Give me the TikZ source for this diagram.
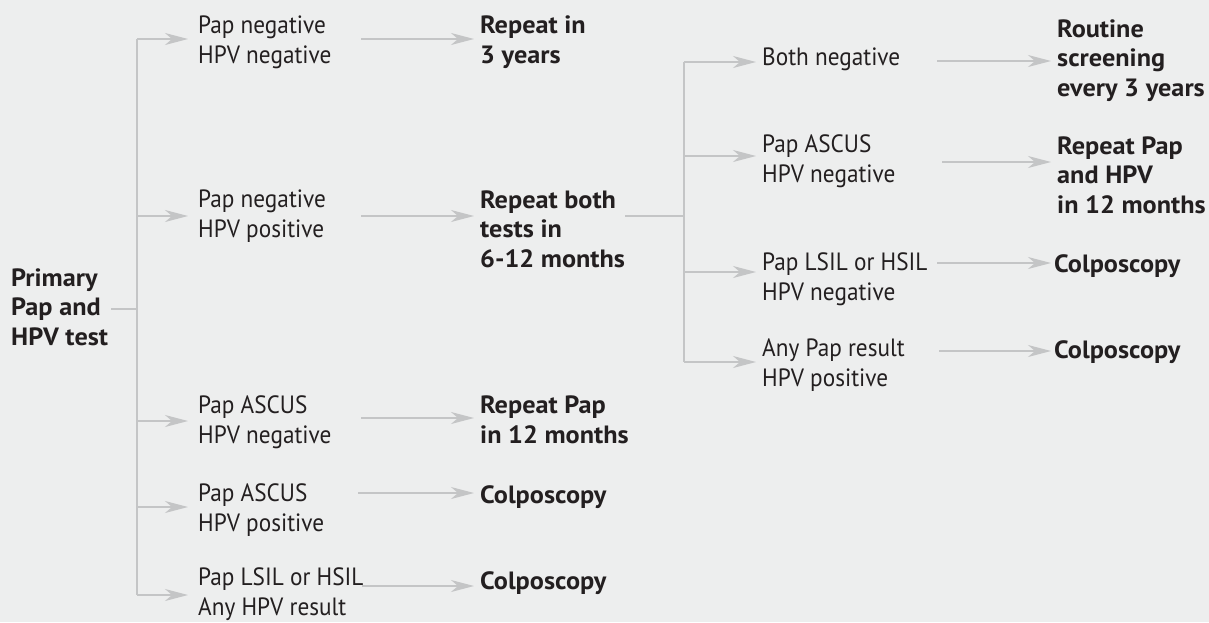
\documentclass[tikz,border=0pt]{standalone}
\usepackage{fontspec}
\setmainfont{PT Sans}[FakeStretch=0.93, BoldFont={PT Sans Bold}, BoldFeatures={FakeStretch=1.05}]
\usetikzlibrary{arrows.meta}
\definecolor{bg}{HTML}{EDEEEE}
\definecolor{ln}{HTML}{C4C5C6}
\definecolor{tx}{HTML}{231F20}
\tikzset{
  txt/.style={inner sep=0pt, anchor=base west, align=left, text=tx,
    font=\fontsize{25}{29.5}\selectfont},
  res/.style={txt, font=\fontsize{25}{29.5}\selectfont\bfseries},
  link/.style={draw=ln, line width=1.4pt},
  arr/.style={link, -{Stealth[length=23pt, width=12pt, inset=7pt, fill=ln]}},
}
\begin{document}
\begin{tikzpicture}[x=1pt, y=-1pt]
\useasboundingbox (0,0) rectangle (1209,622);
\clip (0,0) rectangle (1209,622);
\fill[bg] (0,0) rectangle (1209,622);
% root (anchor = baseline of last line)
\node[res] (root) at (11,345) {Primary\\Pap and\\HPV test};
% left level 1
\node[txt] (a1) at (198,63) {Pap negative\\HPV negative};
\node[txt] (b1) at (198,237) {Pap negative\\HPV positive};
\node[txt] (c1) at (198,443) {Pap ASCUS\\HPV negative};
\node[txt] (d1) at (198,531) {Pap ASCUS\\HPV positive};
\node[txt] (e1) at (198,615) {Pap LSIL or HSIL\\Any HPV result};
% left level 2
\node[res] (a2) at (480,63) {Repeat in\\3 years};
\node[res] (b2) at (480,267) {Repeat both\\tests in\\6-12 months};
\node[res] (c2) at (480,443) {Repeat Pap\\in 12 months};
\node[res] (d2) at (480,503) {Colposcopy};
\node[res] (e2) at (480,589) {Colposcopy};
% right level 1
\node[txt] (f1) at (762,65) {Both negative};
\node[txt] (g1) at (762,182) {Pap ASCUS\\HPV negative};
\node[txt] (h1) at (762,300) {Pap LSIL or HSIL\\HPV negative};
\node[txt] (i1) at (762,386) {Any Pap result\\HPV positive};
% right level 2
\node[res] (f2) at (1057,96) {Routine\\screening\\every 3 years};
\node[res] (g2) at (1057,213) {Repeat Pap\\and HPV\\in 12 months};
\node[res] (h2) at (1054,272) {Colposcopy};
\node[res] (i2) at (1054,358) {Colposcopy};

% left trunk
\coordinate (rootout) at (111,309);
\coordinate (TL) at (137,309);
\coordinate (TLa) at (137,39);
\coordinate (TLb) at (137,216);
\coordinate (TLc) at (137,421);
\coordinate (TLd) at (137,507);
\coordinate (TLe) at (137,595);
\draw[link] (rootout) -- (TL);
\draw[link] (TLa) -- (TLe);
\foreach \n/\c in {a1/TLa, b1/TLb, c1/TLc, d1/TLd, e1/TLe}
  \draw[arr, shorten >=10pt] (\c) -- (\c -| \n.west);

% left outgoing
\coordinate (oa) at (361,39);
\coordinate (ob) at (361,216);
\coordinate (oc) at (361,418);
\coordinate (od) at (358,493);
\coordinate (oe) at (362,586);
\foreach \n/\c in {a2/oa, b2/ob, c2/oc, d2/od, e2/oe}
  \draw[arr, shorten >=6pt] (\c) -- (\c -| \n.west);

% right trunk
\coordinate (bout) at (625,216);
\coordinate (TR) at (684,216);
\coordinate (TRf) at (684,62);
\coordinate (TRg) at (684,156);
\coordinate (TRh) at (684,272);
\coordinate (TRi) at (684,362);
\draw[link] (bout) -- (TR);
\draw[link] (TRf) -- (TRi);
\foreach \n/\c in {f1/TRf, g1/TRg, h1/TRh, i1/TRi}
  \draw[arr, shorten >=6pt] (\c) -- (\c -| \n.west);

% right outgoing
\coordinate (of) at (937,61);
\coordinate (og) at (942,162);
\coordinate (oh) at (937,263);
\coordinate (oi) at (939,351);
\foreach \n/\c in {f2/of, g2/og}
  \draw[arr, shorten >=6pt] (\c) -- (\c -| \n.west);
\foreach \n/\c in {h2/oh, i2/oi}
  \draw[arr, shorten >=3pt] (\c) -- (\c -| \n.west);
\end{tikzpicture}
\end{document}
